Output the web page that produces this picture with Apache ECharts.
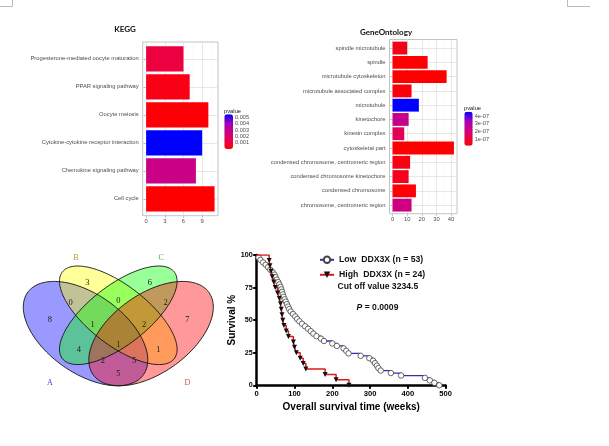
<!DOCTYPE html>
<html><head><meta charset="utf-8">
<script src="https://cdn.jsdelivr.net/npm/echarts@6/dist/echarts.min.js"></script>
<style>html,body{margin:0;padding:0;background:#fff}#c{width:609px;height:446px}</style>
</head><body><div id="c"></div>
<script>
// ---------- KEGG ----------
const keggTerms = ['Cell cycle','Chemokine signaling pathway','Cytokine-cytokine receptor interaction','Oocyte meiosis','PPAR signaling pathway','Progesterone-mediated oocyte maturation'];
const keggCounts = [11, 8, 9, 10, 7, 6];
const keggPvalues = [0.00001, 0.0027, 0.0055, 0.00012, 0.00035, 0.0011];
const keggTicks = [0, 3, 6, 9];
const keggMinorTicks = [1.5, 4.5, 7.5, 10.5];
const keggPTicks = [0.001, 0.002, 0.003, 0.004, 0.005];

// ---------- GeneOntology ----------
const goTerms = ['chromosome, centromeric region','condensed chromosome','condensed chromosome kinetochore','condensed chromosome, centromeric region','cytoskeletal part','kinesin complex','kinetochore','microtubule','microtubule associated complex','microtubule cytoskeleton','spindle','spindle microtubule'];
const goCounts = [13, 16, 11, 12, 42, 8, 11, 18, 13, 37, 24, 10];
const goPvalues = [2.2e-7, 2.0e-8, 5.5e-8, 3.5e-8, 1.3e-8, 1.4e-7, 2.4e-7, 4.56e-7, 3.0e-8, 1.3e-8, 1.5e-8, 4.5e-8];
const goTicks = [0, 10, 20, 30, 40];
const goMinorTicks = [5, 15, 25, 35];
const goPTicks = [1e-7, 2e-7, 3e-7, 4e-7];

// ---------- Venn ----------
const vennSetNames = ['A', 'B', 'C', 'D'];
const vennCounts = [3, 6, 0, 0, 2, 8, 1, 2, 7, 4, 1, 1, 2, 5, 5];

// ---------- Survival ----------
const lowName = 'Low  DDX3X (n = 53)';
const highName = 'High  DDX3X (n = 24)';
const lowTimes = [0,5,10,17,24,30,36,42,47,50,53,57,60,63,65,67,69,71,74,77,80,83,86,90,96,102,107,113,120,128,136,143,150,158,170,178,200,212,230,237,243,275,298,308,313,318,322,328,355,382,445,458,470,483];
const lowSurvival = [100,98.1,96.2,94.3,92.5,90.6,88.7,86.8,84.9,83.0,81.1,79.2,77.4,75.5,73.6,71.7,69.8,67.9,66.0,64.2,62.3,60.4,58.5,56.6,54.7,52.8,50.9,49.1,47.2,45.3,43.4,41.5,39.6,37.7,35.8,34.0,32.1,30.2,28.3,26.4,24.5,22.6,20.8,18.9,17.0,15.1,13.2,11.3,9.4,7.5,5.7,3.8,1.9,0];
const highTimes = [0,33,35,38,41,45,49,55,60,63,65,67,69,72,78,84,97,100,105,115,123,130,181,210,244];
const highSurvival = [100,95.8,91.7,87.5,83.3,79.2,75.0,70.8,66.7,62.5,58.3,54.2,50.0,45.8,41.7,37.5,33.3,29.2,25.0,20.8,16.7,12.5,8.3,4.2,0];

// ---------- layout (not data) ----------
const vennEllipseGeom = [[0.35,0.47,0.35,0.20,135],[0.5,0.57,0.35,0.15,135],[0.5,0.57,0.35,0.15,45],[0.65,0.47,0.35,0.20,45]];
const vennFill = ['rgba(0,0,255,0.4)','rgba(255,255,0,0.4)','rgba(0,255,0,0.4)','rgba(255,0,0,0.4)'];
const vennCountPos = [[0.358,0.750],[0.645,0.750],[0.282,0.641],[0.5,0.648],[0.717,0.641],[0.187,0.544],[0.383,0.517],[0.618,0.517],[0.816,0.544],[0.320,0.384],[0.5,0.408],[0.683,0.384],[0.429,0.322],[0.572,0.322],[0.5,0.253]];
const vennSetPos = [[0.187,0.198],[0.306,0.885],[0.696,0.885],[0.816,0.198]];
const vennSetColor = ['#3b3bd0','#b0a040','#48b048','#e04848'];

const gradStops = ['#ff0000','#e80050','#c90088','#9a00c2','#0000ff'];
const SANS = 'Liberation Sans, Arial, sans-serif';
const SERIF = 'Liberation Serif, Times New Roman, serif';
const axisTxt = '#4d4d4d';
const borderC = '#b3b3b3';
const gridC = '#dedede';

const keggPMin = Math.min(...keggPvalues), keggPMax = Math.max(...keggPvalues);
const goPMin = Math.min(...goPvalues), goPMax = Math.max(...goPvalues);
const keggMax = Math.max(...keggCounts), goMax = Math.max(...goCounts);

function majorX(grid, min, max, ticks) {
  return { type:'value', gridIndex:grid, min:min, max:max,
    axisLine:{show:false},
    axisTick:{show:true, customValues:ticks, length:2.5, lineStyle:{color:borderC, width:0.7}},
    axisLabel:{customValues:ticks, fontSize:5.8, color:axisTxt, margin:3, fontFamily:SANS},
    splitLine:{show:true, lineStyle:{color:gridC, width:0.7}} };
}
function minorX(grid, min, max, ticks) {
  return { type:'value', gridIndex:grid, min:min, max:max,
    axisLine:{show:false}, axisTick:{show:false, customValues:ticks}, axisLabel:{show:false},
    splitLine:{show:true, lineStyle:{color:'#efefef', width:0.4}} };
}
function hiddenX(grid, min, max) { return { type:'value', gridIndex:grid, min:min, max:max, show:false }; }
function rowY(grid, n) {
  const c = []; for (let i = 1; i <= n; i++) c.push(i);
  return { type:'value', gridIndex:grid, min:0.4, max:n+0.6, axisLine:{show:false}, axisLabel:{show:false},
    axisTick:{show:false, customValues:c}, splitLine:{show:true, lineStyle:{color:gridC, width:0.7}} };
}
function catY(grid, terms) {
  return { type:'category', gridIndex:grid, data:terms, axisLine:{show:false},
    axisTick:{show:true, alignWithLabel:true, length:2.5, lineStyle:{color:borderC, width:0.7}},
    axisLabel:{interval:0, fontSize:5.8, color:axisTxt, margin:4, fontFamily:SANS}, splitLine:{show:false} };
}
function legendY(grid, min, max, ticks, fmt) {
  return { type:'value', gridIndex:grid, min:min, max:max, position:'right', z:10,
    axisLine:{show:false},
    axisTick:{show:true, inside:true, customValues:ticks, length:2, lineStyle:{color:'#fff', width:0.6}},
    axisLabel:{customValues:ticks, formatter:fmt, fontSize:5.6, color:axisTxt, margin:2, fontFamily:SANS},
    splitLine:{show:false} };
}

const kExp = keggMax*0.05, gExp = goMax*0.05;

const option = {
  animation:false,
  backgroundColor:'#fff',
  grid:[
    {left:142.7, top:42, width:75.3, height:173.7, show:true, borderColor:borderC, borderWidth:0.8, backgroundColor:'transparent'},
    {left:142.7, top:44.8, width:75.3, height:168.1},
    {left:224.3, top:114.3, width:8.7, height:34.7},
    {left:389.5, top:39.5, width:67.5, height:174.2, show:true, borderColor:borderC, borderWidth:0.8, backgroundColor:'transparent'},
    {left:389.5, top:40.93, width:67.5, height:171.34},
    {left:464.3, top:111.7, width:8.4, height:34},
    {left:9.1, top:236.6, width:218.4, height:183},
    {left:256.7, top:255, width:189, height:130.3}
  ],
  xAxis:[
    majorX(0, -kExp, keggMax+kExp, keggTicks),
    minorX(0, -kExp, keggMax+kExp, keggMinorTicks),
    hiddenX(1, -kExp, keggMax+kExp),
    hiddenX(2, 0, 1),
    majorX(3, -gExp, goMax+gExp, goTicks),
    minorX(3, -gExp, goMax+gExp, goMinorTicks),
    hiddenX(4, -gExp, goMax+gExp),
    hiddenX(5, 0, 1),
    hiddenX(6, 0, 1),
    { type:'value', gridIndex:7, min:0, max:500, interval:100,
      axisLine:{show:true, lineStyle:{color:'#000', width:2.5}},
      axisTick:{show:true, length:3.5, lineStyle:{color:'#000', width:2}},
      axisLabel:{fontSize:7.6, fontWeight:'bold', color:'#000', margin:5, fontFamily:SANS},
      splitLine:{show:false},
      name:'Overall survival time (weeks)', nameLocation:'middle', nameGap:17,
      nameTextStyle:{fontSize:10, fontWeight:'bold', color:'#000', fontFamily:SANS} }
  ],
  yAxis:[
    rowY(0, keggTerms.length),
    catY(1, keggTerms),
    legendY(2, keggPMin, keggPMax, keggPTicks, v => v.toFixed(3)),
    rowY(3, goTerms.length),
    catY(4, goTerms),
    legendY(5, goPMin, goPMax, goPTicks, v => Math.round(v*1e7) + 'e-07'),
    { type:'value', gridIndex:6, min:0, max:1, show:false },
    { type:'value', gridIndex:7, min:0, max:100, interval:25,
      axisLine:{show:true, lineStyle:{color:'#000', width:2.5}},
      axisTick:{show:true, length:3.5, lineStyle:{color:'#000', width:2}},
      axisLabel:{fontSize:7.2, fontWeight:'bold', color:'#000', margin:4, fontFamily:SANS},
      splitLine:{show:false},
      name:'Survival %', nameLocation:'middle', nameRotate:90, nameGap:18,
      nameTextStyle:{fontSize:10, fontWeight:'bold', color:'#000', fontFamily:SANS} }
  ],
  visualMap:[
    { type:'continuous', seriesIndex:0, dimension:2, min:keggPMin, max:keggPMax, inRange:{color:gradStops},
      calculable:false, hoverLink:false, itemWidth:8.7, itemHeight:34.7, left:224.3, top:114.3, padding:0, text:null, z:4 },
    { type:'continuous', seriesIndex:1, dimension:2, min:goPMin, max:goPMax, inRange:{color:gradStops},
      calculable:false, hoverLink:false, itemWidth:8.4, itemHeight:34, left:464.3, top:111.7, padding:0, text:null, z:4 }
  ],
  legend:{ data:[lowName, highName], left:319, top:255.3, orient:'vertical', itemWidth:14, itemHeight:8, itemGap:6, padding:0,
    selectedMode:false, textStyle:{fontSize:8.7, fontWeight:'bold', color:'#111', fontFamily:SANS} },
  graphic:[
    {type:'polyline', shape:{points:[[12.5,0],[12.5,6.5],[0,6.5]]}, style:{stroke:'#aaa', fill:null, lineWidth:0.8}},
    {type:'polyline', shape:{points:[[567.5,0],[567.5,6.5],[590,6.5]]}, style:{stroke:'#aaa', fill:null, lineWidth:0.8}},
    {type:'text', x:125, y:29.5, style:{text:'KEGG', font:'bold 8px Lato, sans-serif', fill:'#111', align:'center', verticalAlign:'middle'}},
    {type:'text', x:386, y:32, style:{text:'GeneOntology', font:'bold 8px Lato, sans-serif', fill:'#111', align:'center', verticalAlign:'middle'}},
    {type:'text', x:224, y:111, style:{text:'pvalue', font:'5.8px ' + SANS, fill:'#222', align:'left', verticalAlign:'middle'}},
    {type:'text', x:464, y:108.5, style:{text:'pvalue', font:'5.8px ' + SANS, fill:'#222', align:'left', verticalAlign:'middle'}},
    {type:'text', x:377.8, y:286.3, style:{text:'Cut off value 3234.5', font:'bold 8.6px ' + SANS, fill:'#111', align:'center', verticalAlign:'middle'}},
    {type:'text', x:377.5, y:307.3, style:{text:'{i|P} = 0.0009', font:'bold 8.6px ' + SANS, fill:'#111', align:'center', verticalAlign:'middle',
      rich:{i:{fontStyle:'italic', fontWeight:'bold', fontSize:8.6, fontFamily:SANS, fill:'#111'}}}}
  ],
  series:[
    { type:'bar', xAxisIndex:2, yAxisIndex:1, barWidth:'90%', encode:{x:0, y:1},
      data: keggTerms.map((t,i) => [keggCounts[i], t, keggPvalues[i]]) },
    { type:'bar', xAxisIndex:6, yAxisIndex:4, barWidth:'90%', encode:{x:0, y:1},
      data: goTerms.map((t,i) => [goCounts[i], t, goPvalues[i]]) },
    { type:'custom', xAxisIndex:8, yAxisIndex:6, coordinateSystem:'cartesian2d', z:1, silent:true,
      data: vennEllipseGeom.map((g,i) => g.concat([i])),
      renderItem: function(params, api) {
        const cx=api.value(0), cy=api.value(1), a=api.value(2), b=api.value(3), th=api.value(4)*Math.PI/180, k=api.value(5);
        const pts=[];
        for (let j=0;j<160;j++){ const t=j/160*2*Math.PI;
          pts.push(api.coord([cx+a*Math.cos(t)*Math.cos(th)-b*Math.sin(t)*Math.sin(th), cy+a*Math.cos(t)*Math.sin(th)+b*Math.sin(t)*Math.cos(th)])); }
        return {type:'polygon', shape:{points:pts}, style:{fill:vennFill[k], stroke:null}};
      } },
    { type:'custom', xAxisIndex:8, yAxisIndex:6, coordinateSystem:'cartesian2d', z:2, silent:true,
      data: vennEllipseGeom.map((g,i) => g.concat([i])),
      renderItem: function(params, api) {
        const cx=api.value(0), cy=api.value(1), a=api.value(2), b=api.value(3), th=api.value(4)*Math.PI/180;
        const pts=[];
        for (let j=0;j<160;j++){ const t=j/160*2*Math.PI;
          pts.push(api.coord([cx+a*Math.cos(t)*Math.cos(th)-b*Math.sin(t)*Math.sin(th), cy+a*Math.cos(t)*Math.sin(th)+b*Math.sin(t)*Math.cos(th)])); }
        return {type:'polygon', shape:{points:pts}, style:{fill:null, stroke:'#111', lineWidth:0.9}};
      } },
    { type:'custom', xAxisIndex:8, yAxisIndex:6, coordinateSystem:'cartesian2d', z:3, silent:true,
      data: vennCounts.map((c,i) => [vennCountPos[i][0], vennCountPos[i][1], c]),
      renderItem: function(params, api) {
        const p = api.coord([api.value(0), api.value(1)]);
        return {type:'text', x:p[0], y:p[1], style:{text:String(api.value(2)), font:'8.5px ' + SERIF, fill:'#222', align:'center', verticalAlign:'middle'}};
      } },
    { type:'custom', xAxisIndex:8, yAxisIndex:6, coordinateSystem:'cartesian2d', z:3, silent:true,
      data: vennSetNames.map((n,i) => [vennSetPos[i][0], vennSetPos[i][1], i]),
      renderItem: function(params, api) {
        const p = api.coord([api.value(0), api.value(1)]); const k = api.value(2);
        return {type:'text', x:p[0], y:p[1], style:{text:vennSetNames[k], font:'8px ' + SERIF, fill:vennSetColor[k], align:'center', verticalAlign:'middle'}};
      } },
    { type:'line', name:lowName, xAxisIndex:9, yAxisIndex:7, step:'end', z:3,
      symbol:'circle', symbolSize:5.5, showAllSymbol:true,
      itemStyle:{color:'#fff', borderColor:'#444', borderWidth:0.8},
      lineStyle:{color:'#2f2fb0', width:1.3},
      data: lowTimes.map((t,i) => i === 0 ? {value:[t, lowSurvival[i]], symbol:'none'} : [t, lowSurvival[i]]) },
    { type:'line', name:highName, xAxisIndex:9, yAxisIndex:7, step:'end', z:4,
      symbol:'triangle', symbolRotate:180, symbolSize:5, showAllSymbol:true,
      itemStyle:{color:'#111'},
      lineStyle:{color:'#e01818', width:1.5},
      data: highTimes.map((t,i) => i === 0 ? {value:[t, highSurvival[i]], symbol:'none'} : [t, highSurvival[i]]) }
  ]
};
const chart = echarts.init(document.getElementById('c'), null, {renderer:'canvas'});
chart.setOption(option);
</script>
</body></html>
